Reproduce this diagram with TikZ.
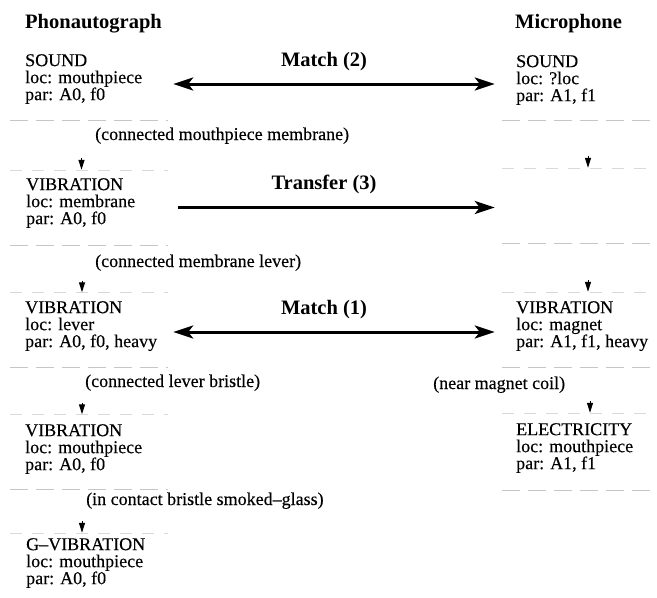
\documentclass[tikz,border=0pt]{standalone}
\usepackage{fontspec}
\setmainfont{Liberation Serif}[UprightFeatures={FakeBold=0.3}]
\usetikzlibrary{arrows.meta,calc}
\begin{document}
\begin{tikzpicture}[x=1pt,y=-1pt,
  lbox/.style={minimum width=158pt, minimum height=75pt, inner sep=0pt},
  rbox/.style={minimum width=150pt, minimum height=75pt, inner sep=0pt},
  txt/.style={anchor=north west, inner sep=0pt, align=left, font=\fontsize{18}{17}\selectfont},
  lbl/.style={anchor=base west, inner sep=0pt, font=\fontsize{18}{17}\selectfont},
  hd/.style={anchor=base west, inner sep=0pt, font=\fontsize{20.5}{24}\selectfont\bfseries},
  arrlbl/.style={midway, anchor=base, inner sep=0pt, yshift=18pt, xshift=-11pt, font=\fontsize{20.5}{24}\selectfont\bfseries},
  bigboth/.style={line width=3pt, {Stealth[length=20pt,width=13pt,inset=5pt]}-{Stealth[length=20pt,width=13pt,inset=5pt]}},
  bigone/.style={line width=3pt, -{Stealth[length=20pt,width=13pt,inset=5pt]}},
  link/.style={line width=1pt, -{Triangle[length=10pt,width=6pt]}},
  faint/.style={draw=gray!45, line width=0.7pt, dash pattern=on 18pt off 8pt},
  fainter/.style={draw=gray!30, line width=0.6pt, dash pattern=on 12pt off 10pt}
]
\useasboundingbox (0,0) rectangle (657,598);

% headers
\node[hd] (hL) at (25,28) {Phonautograph};
\node[hd] (hR) at (515,28) {Microphone};

% left boxes
\node[lbox] (B1) at (89,82.5) {};
\node[lbox] (B2) at (89,207.5) {};
\node[lbox] (B3) at (89,330) {};
\node[lbox] (B4) at (89,452) {};
\node[lbox, minimum height=65pt] (B5) at (89,565.5) {};
% right boxes
\node[rbox] (R1) at (577,82.5) {};
\node[rbox] (R2) at (577,205.5) {};
\node[rbox] (R3) at (577,329.5) {};
\node[rbox, minimum height=77pt] (R4) at (577,451.5) {};

% box texts
\node[txt] (t1) at (25,54) {SOUND\\loc: mouthpiece\\par: A0, f0};
\node[txt] (t2) at (26,178) {VIBRATION\\loc: membrane\\par: A0, f0};
\node[txt] (t3) at (25,301) {VIBRATION\\loc: lever\\par: A0, f0, heavy};
\node[txt] (t4) at (25,424) {VIBRATION\\loc: mouthpiece\\par: A0, f0};
\node[txt] (t5) at (26,538) {G–VIBRATION\\loc: mouthpiece\\par: A0, f0};
\node[txt] (u1) at (516,55) {SOUND\\loc: ?loc\\par: A1, f1};
\node[txt] (u3) at (516,301) {VIBRATION\\loc: magnet\\par: A1, f1, heavy};
\node[txt] (u4) at (516,423) {ELECTRICITY\\loc: mouthpiece\\par: A1, f1};

% relation labels
\node[lbl] (l1) at (95,140) {(connected mouthpiece membrane)};
\node[lbl] (l2) at (95,267) {(connected membrane lever)};
\node[lbl] (l3) at (85,387) {(connected lever bristle)};
\node[lbl] (l4) at (86,505) {(in contact bristle smoked–glass)};
\node[lbl] (l5) at (433,389) {(near magnet coil)};

% faint box edges
\foreach \b in {B1,B2,B3,B4,R1,R2,R3,R4}{
  \draw[faint] (\b.south west) -- (\b.south east);
}
\foreach \b in {B2,B3,B4,B5,R2,R3,R4}{
  \draw[fainter] (\b.north west) -- (\b.north east);
}

% horizontal arrows
\draw[bigboth, shorten <=5pt, shorten >=7pt] ([yshift=-1.5pt]B1.east) -- node[arrlbl] (m2) {Match (2)} ([yshift=-1.5pt]R1.west);
\draw[bigone, shorten <=10pt, shorten >=7pt] (B2.east) -- node[arrlbl] (tr) {Transfer (3)} ([yshift=-2pt]R2.west);
\draw[bigboth, shorten <=5pt, shorten >=7pt] ([yshift=-2pt]B3.east) -- node[arrlbl] (m1) {Match (1)} ([yshift=-2.5pt]R3.west);

% vertical links
\draw[link, shorten <=38pt] ([xshift=-7.5pt]B1.south) -- ([xshift=-7.5pt]B2.north);
\draw[link, shorten <=35.5pt] ([xshift=-7pt]B2.south) -- ([xshift=-7pt]B3.north);
\draw[link, shorten <=35pt] ([xshift=-7pt]B3.south) -- ([xshift=-7pt]B4.north);
\draw[link, shorten <=31.5pt] ([xshift=-7pt]B4.south) -- ([xshift=-7pt]B5.north);
\draw[link, shorten <=36pt] ([xshift=11pt]R1.south) -- ([xshift=11pt]R2.north);
\draw[link, shorten <=37pt] ([xshift=11pt]R2.south) -- ([xshift=11pt]R3.north);
\draw[link, shorten <=34pt] ([xshift=13pt]R3.south) -- ([xshift=13pt]R4.north);
\end{tikzpicture}
\end{document}
